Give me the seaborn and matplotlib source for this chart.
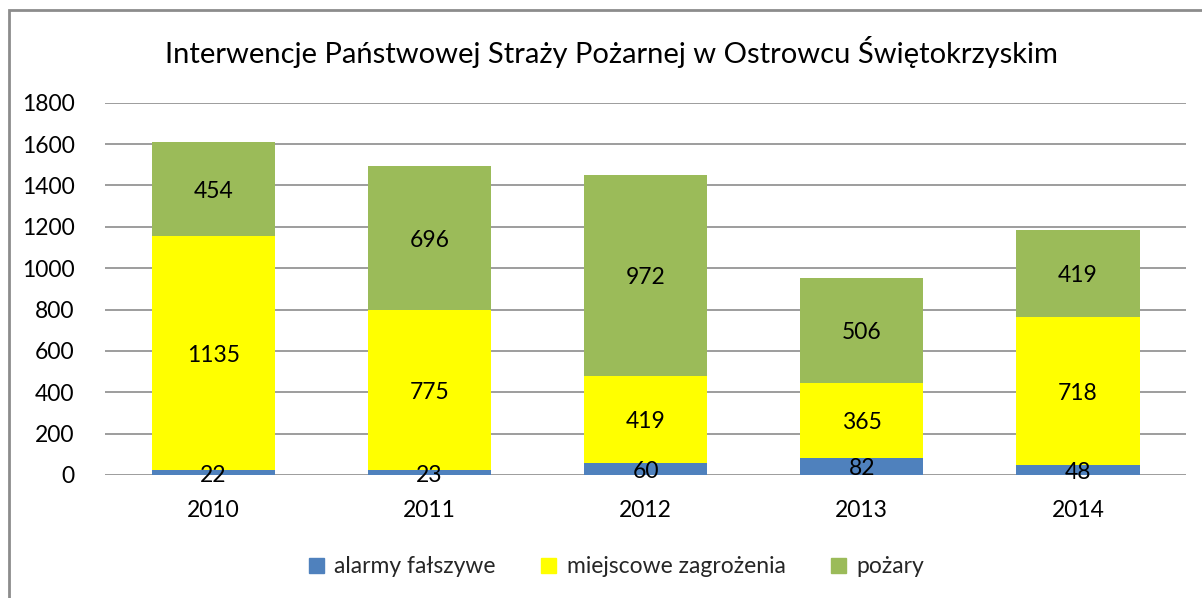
import pandas as pd
import matplotlib.pyplot as plt
import seaborn as sns
from matplotlib.patches import Rectangle

lata = ["2010", "2011", "2012", "2013", "2014"]
alarmy = [22, 23, 60, 82, 48]
zagrozenia = [1135, 775, 419, 365, 718]
pozary = [454, 696, 972, 506, 419]

serie = ["alarmy fałszywe", "miejscowe zagrożenia", "pożary"]
kolory = ["#4F81BD", "#FFFF00", "#9BBB59"]

sns.set_theme(style="white")
plt.rcParams["font.family"] = ["Lato", "DejaVu Sans"]

df = pd.DataFrame({"rok": lata, serie[0]: alarmy, serie[1]: zagrozenia, serie[2]: pozary})

fig = plt.figure(figsize=(12.02, 5.98), dpi=100)
ax = fig.add_axes([0.0874, 0.2057, 0.8993, 0.6226])

# słupki skumulowane
dol = [0] * len(lata)
for nazwa, kolor in zip(serie, kolory):
    sns.barplot(data=df, x="rok", y=nazwa, color=kolor, bottom=dol, width=0.57,
                saturation=1, ax=ax, linewidth=0, zorder=3)
    for i, v in enumerate(df[nazwa]):
        ax.text(i, dol[i] + v / 2 - 12, str(v), ha="center", va="center", fontsize=16.5, color="black", zorder=4)
    dol = [a + b for a, b in zip(dol, df[nazwa])]

ax.set_ylim(0, 1800)
ax.set_xlim(-0.5, 4.5)
ax.set_yticks(range(0, 1801, 200))
ax.yaxis.grid(True, color="#8C8C8C", linewidth=1.2, zorder=0)
ax.set_axisbelow(True)
for s in ax.spines.values():
    s.set_visible(False)
ax.tick_params(axis="both", length=0, labelsize=16.5, colors="black")
ax.tick_params(axis="y", pad=22)
ax.tick_params(axis="x", pad=18)
ax.set_xlabel("")
ax.set_ylabel("")

fig.text(0.509, 0.913, "Interwencje Państwowej Straży Pożarnej w Ostrowcu Świętokrzyskim",
         ha="center", va="center", fontsize=21, color="black")

# legenda na dole
uchwyty = [Rectangle((0, 0), 1, 1, color=k) for k in kolory]
fig.legend(uchwyty, serie, loc="center", bbox_to_anchor=(0.513, 0.052), ncol=3, frameon=False,
           fontsize=16.5, handlelength=0.65, handleheight=0.65, columnspacing=2.0, handletextpad=0.45)

# ramka wykresu
fig.patches.append(Rectangle((0.0075, -0.05), 1.1, 1.033, transform=fig.transFigure,
                             fill=False, edgecolor="#8C8C8C", linewidth=2))

fig.savefig("out.png", dpi=100)
